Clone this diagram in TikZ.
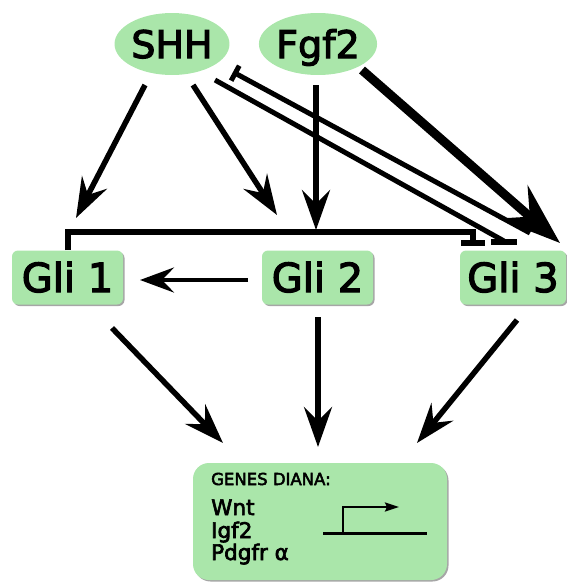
\documentclass[tikz,border=0pt]{standalone}
\usepackage{fontspec}
\setmainfont{DejaVu Sans}
\newfontfamily\heavy{DejaVu Sans}[FakeBold=3]
\usetikzlibrary{arrows.meta,shapes.geometric,shadows,calc}
\definecolor{leaf}{RGB}{170,230,170}
\begin{document}
\begin{tikzpicture}[x=1pt,y=-1pt,
  oval/.style={ellipse, fill=leaf, draw=none, minimum width=104pt, minimum height=62pt,
    inner sep=0pt, text height=28pt, text depth=0pt, font=\heavy\fontsize{38}{40}\selectfont},
  glibox/.style={rectangle, rounded corners=6pt, fill=leaf, minimum height=54pt, inner sep=0pt,
    text height=29pt, text depth=0pt, font=\heavy\fontsize{40}{42}\selectfont,
    drop shadow={shadow xshift=1.5pt, shadow yshift=-1.5pt, opacity=0.35, fill=black}},
  genebox/.style={rectangle, rounded corners=16pt, fill=leaf, minimum width=254pt, minimum height=117pt,
    drop shadow={shadow xshift=1.5pt, shadow yshift=-1.5pt, opacity=0.35, fill=black}},
  genetext/.style={anchor=base west, inner sep=0pt, font=\heavy\fontsize{21.5}{24}\selectfont},
  act/.style={line width=5.5pt, -{Stealth[length=40pt,width=28pt,inset=14pt]}},
  bigact/.style={line width=9pt, -{Stealth[length=62pt,width=44pt,inset=22pt]}},
  inh/.style={line width=5.5pt},
]
\useasboundingbox (0,0) rectangle (567,584);

% nodes
\node[oval] (shh) at (172,44) {SHH};
\node[oval, minimum width=106pt] (fgf) at (318,44) {Fgf2};
\node[glibox, minimum width=111pt] (gli1) at (67.5,277.5) {Gli 1};
\node[glibox, minimum width=111pt] (gli2) at (317.5,277.5) {Gli 2};
\node[glibox, minimum width=106pt] (gli3) at (513,277.5) {Gli 3};
\node[genebox] (genes) at (320,521.5) {};
\node[genetext, font=\heavy\fontsize{16.5}{18}\selectfont] (gtitle) at (211,485) {GENES DIANA:};
\node[genetext] (wnt) at (211,515) {Wnt};
\node[genetext] (igf) at (211,538) {Igf2};
\node[genetext] (pdg) at (211,560) {Pdgfr α};

% promoter symbol
\coordinate (p0) at (323,533);
\coordinate (p1) at (427,533);
\coordinate (p2) at (343,533);
\coordinate (p3) at (343,507);
\coordinate (p4) at (399,507);
\draw[line width=3pt] (p0) -- (p1);
\draw[line width=2.5pt, -{Stealth[length=14pt,width=9pt,inset=2pt]}] (p2) -- (p3) -- (p4);

% free ends
\coordinate (a1s) at (145,85);  \coordinate (a1e) at (76,218);
\coordinate (a2s) at (193,85);  \coordinate (a2e) at (277,215);
\coordinate (a3s) at (316,85);  \coordinate (a3e) at (316,230);
\coordinate (u1) at (233,72);   \coordinate (u2) at (530,233);
\coordinate (l1) at (215,80);   \coordinate (l2) at (504,241);
\coordinate (bar0) at (68,250); \coordinate (bar1) at (68,232);
\coordinate (bar2) at (473,232); \coordinate (bar3) at (473,243);
\coordinate (fs) at (362,70);   \coordinate (fe) at (560,243);
\coordinate (g1s) at (112,328); \coordinate (g1e) at (223,443);
\coordinate (g2s) at (318,317); \coordinate (g2e) at (318,447);
\coordinate (g3s) at (517,320); \coordinate (g3e) at (417,443);
\coordinate (g21s) at (248,280); \coordinate (g21e) at (140,280);

% SHH and Fgf2 arrows
\draw[act] (a1s) -- (a1e);
\draw[act] (a2s) -- (a2e);
\draw[act] (a3s) -- (a3e);

% Gli1 inhibition bar to Gli3
\draw[inh, line cap=butt, line join=miter] (bar0) -- (bar1) -- (bar2) -- (bar3);
\draw[inh] ($(bar3)+(-12,0)$) -- ($(bar3)+(12,0)$);

% SHH inhibitory lines
\draw[line width=5pt, {Bar[width=17pt]}-] (u1) -- (u2);
\draw[line width=5pt] (l1) -- (l2);
\draw[line width=5.5pt] ($(l2)+(-13,1)$) -- ($(l2)+(13,1)$);

% Fgf2 thick arrow
\draw[bigact] (fs) -- (fe);

% Gli2 -> Gli1
\draw[line width=4.5pt, -{Stealth[length=34pt,width=25pt,inset=12pt]}] (g21s) -- (g21e);

% Gli -> genes
\draw[act] (g1s) -- (g1e);
\draw[act] (g2s) -- (g2e);
\draw[act] (g3s) -- (g3e);
\end{tikzpicture}
\end{document}
